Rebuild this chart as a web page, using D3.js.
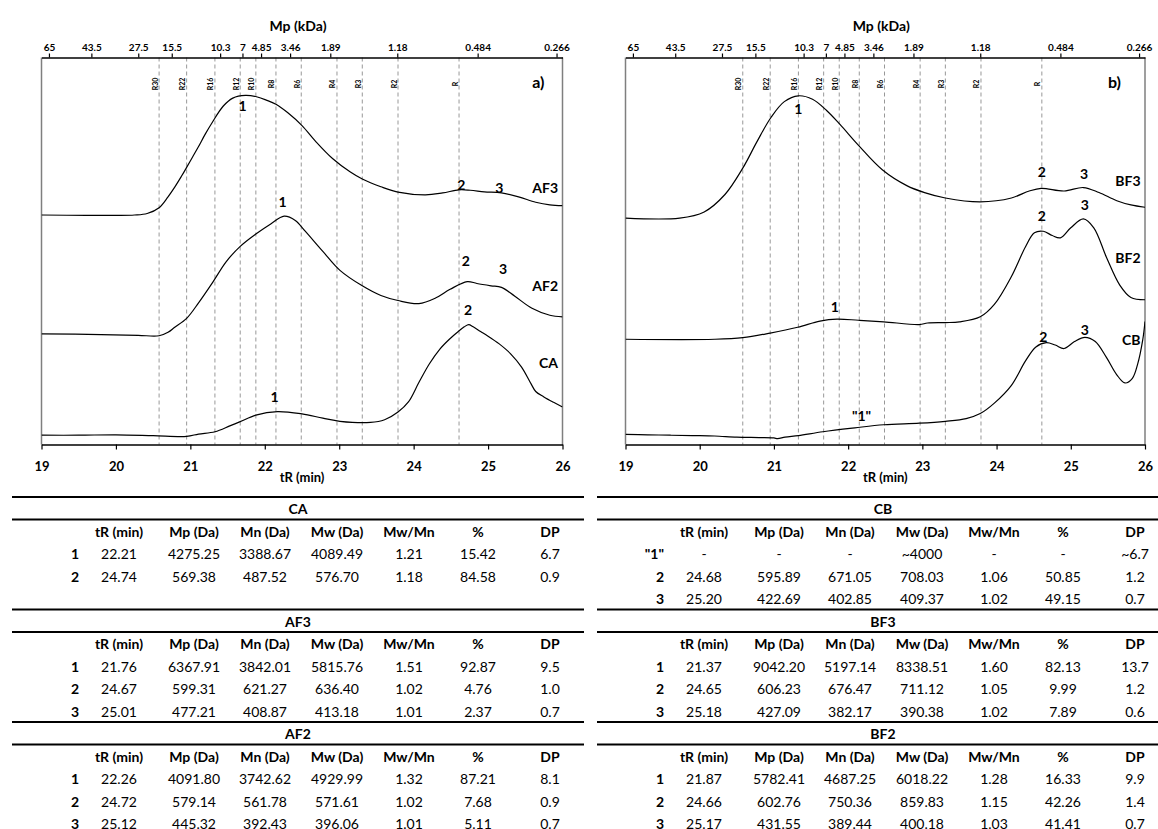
<!DOCTYPE html>
<html>
<head>
<meta charset="utf-8">
<script src="https://cdn.jsdelivr.net/npm/d3@7"></script>
<style>
  body { margin: 0; background: #fff; }
  svg { display: block; font-family: Lato, "Open Sans", "Liberation Sans", sans-serif; }
</style>
</head>
<body>
<svg id="chart" width="1158" height="829"></svg>
<script>
// ---------------- DATA ----------------
const tRTicks = [19, 20, 21, 22, 23, 24, 25, 26];
const mpTickLabels = ["65", "43.5", "27.5", "15.5", "10.3", "7", "4.85", "3.46", "1.89", "1.18", "0.484", "0.266"];
const mpTickTimes  = [19.10, 19.67, 20.30, 20.75, 21.40, 21.70, 21.95, 22.34, 22.88, 23.78, 24.86, 25.92];
const standardNames = ["R30", "R22", "R16", "R12", "R10", "R8", "R6", "R4", "R3", "R2", "R"];
const standardTimes = [20.58, 20.95, 21.33, 21.67, 21.88, 22.15, 22.49, 22.97, 23.31, 23.79, 24.61];

// chromatograms: [tR (min), signal (arb. units)]
const AF3 = [[19.0,59.3],[19.6,59.2],[20.0,59.2],[20.25,59.3],[20.42,59.7],[20.58,61.2],[20.70,64.0],[20.79,66.5],[20.88,69.3],[20.95,71.6],[21.03,74.3],[21.11,77.0],[21.20,80.2],[21.30,83.4],[21.44,87.4],[21.57,89.5],[21.74,90.2],[21.90,89.8],[22.02,89.0],[22.15,87.9],[22.31,85.7],[22.50,82.4],[22.68,78.4],[22.91,73.9],[23.15,70.4],[23.31,68.6],[23.56,66.6],[23.79,65.2],[24.16,64.5],[24.39,65.0],[24.61,65.8],[24.76,65.7],[24.95,65.3],[25.18,65.0],[25.41,64.0],[25.64,62.6],[25.83,61.9],[26.0,61.7]];
const AF2 = [[19.0,28.6],[19.8,28.4],[20.3,28.2],[20.58,28.1],[20.70,29.0],[20.79,30.3],[20.95,32.6],[21.11,36.6],[21.30,41.9],[21.48,47.2],[21.67,51.2],[21.88,54.4],[22.08,57.0],[22.26,59.0],[22.41,57.9],[22.54,55.2],[22.78,49.9],[23.01,45.0],[23.31,41.0],[23.56,38.5],[23.79,37.2],[24.07,36.4],[24.30,37.9],[24.49,40.1],[24.72,42.1],[24.85,41.6],[25.04,41.0],[25.18,40.6],[25.36,38.3],[25.59,35.2],[25.83,33.4],[26.0,33.0]];
const CA  = [[19.0,2.4],[19.5,2.4],[20.0,2.5],[20.5,2.3],[20.95,2.1],[21.11,2.7],[21.33,3.3],[21.53,4.8],[21.67,5.9],[21.88,7.6],[22.17,8.5],[22.50,7.9],[22.78,6.8],[23.01,6.0],[23.42,5.7],[23.61,6.4],[23.79,8.4],[23.93,11.0],[24.07,16.0],[24.21,20.8],[24.35,24.6],[24.48,27.2],[24.60,29.2],[24.68,30.4],[24.74,31.0],[24.80,30.4],[24.90,29.2],[25.00,28.0],[25.15,26.0],[25.30,23.5],[25.45,20.0],[25.58,15.6],[25.64,13.7],[25.75,12.3],[25.88,10.9],[26.0,9.7]];
const BF3 = [[19.0,58.5],[19.73,58.5],[20.06,60.1],[20.34,64.6],[20.58,71.4],[20.77,78.2],[20.96,84.5],[21.14,88.6],[21.33,90.1],[21.52,89.2],[21.71,86.3],[21.89,82.7],[22.14,77.3],[22.46,71.0],[22.79,66.9],[23.03,65.1],[23.31,63.7],[23.78,62.7],[24.20,63.7],[24.44,65.5],[24.60,66.2],[24.91,65.5],[25.17,66.4],[25.38,65.1],[25.62,63.0],[25.81,61.9],[26.0,61.3]];
const BF2 = [[19.0,27.2],[20.20,27.2],[20.58,27.6],[20.95,28.8],[21.32,30.3],[21.62,31.9],[21.85,32.4],[22.14,32.1],[22.48,31.7],[22.96,31.0],[23.07,31.4],[23.31,31.5],[23.50,31.7],[23.78,33.0],[23.97,36.2],[24.20,43.4],[24.39,51.1],[24.51,54.7],[24.63,55.1],[24.75,54.0],[24.86,53.4],[25.00,56.0],[25.17,58.3],[25.31,56.0],[25.48,48.4],[25.66,41.2],[25.81,38.0],[26.0,37.4]];
const CB  = [[19.0,2.6],[19.3,2.5],[19.6,2.4],[19.9,2.3],[20.2,2.2],[20.5,1.9],[20.8,1.8],[21.0,1.7],[21.05,1.5],[21.15,1.9],[21.33,2.3],[21.66,3.3],[22.09,4.3],[22.48,5.1],[22.96,5.5],[23.31,6.0],[23.59,6.7],[23.78,8.0],[23.97,10.7],[24.20,15.3],[24.39,21.6],[24.53,25.2],[24.67,26.3],[24.79,25.7],[24.91,24.8],[25.05,26.6],[25.19,27.7],[25.33,26.6],[25.48,22.5],[25.62,18.0],[25.73,15.9],[25.83,17.1],[25.90,20.7],[25.97,27.1],[26.0,31.8]];

// peak annotations: [text, tR, signal]
const AF3_peaks = [["1",21.70,87.7],["2",24.64,67.3],["3",25.15,66.5]];
const AF2_peaks = [["1",22.24,62.7],["2",24.70,47.5],["3",25.20,45.5]];
const CA_peaks  = [["1",22.13,12.3],["2",24.73,34.9]];
const BF3_peaks = [["1",21.33,86.8],["2",24.61,70.5],["3",25.18,70.1]];
const BF2_peaks = [["1",21.82,35.7],["2",24.61,59.2],["3",25.19,61.9]];
const CB_peaks  = [["\"1\"",22.18,7.5],["2",24.63,27.8],["3",25.19,29.6]];
// series name labels: [text, signal level]
const leftNames  = [["AF3",66.5],["AF2",41.1],["CA",21.3]];
const rightNames = [["BF3",68.1],["BF2",48.2],["CB",27.1]];

// tables
const tableHeader = ["", "tR (min)", "Mp (Da)", "Mn (Da)", "Mw (Da)", "Mw/Mn", "%", "DP"];
const CA_rows  = [["1","22.21","4275.25","3388.67","4089.49","1.21","15.42","6.7"],
                  ["2","24.74","569.38","487.52","576.70","1.18","84.58","0.9"]];
const AF3_rows = [["1","21.76","6367.91","3842.01","5815.76","1.51","92.87","9.5"],
                  ["2","24.67","599.31","621.27","636.40","1.02","4.76","1.0"],
                  ["3","25.01","477.21","408.87","413.18","1.01","2.37","0.7"]];
const AF2_rows = [["1","22.26","4091.80","3742.62","4929.99","1.32","87.21","8.1"],
                  ["2","24.72","579.14","561.78","571.61","1.02","7.68","0.9"],
                  ["3","25.12","445.32","392.43","396.06","1.01","5.11","0.7"]];
const CB_rows  = [["\"1\"","-","-","-","~4000","-","-","~6.7"],
                  ["2","24.68","595.89","671.05","708.03","1.06","50.85","1.2"],
                  ["3","25.20","422.69","402.85","409.37","1.02","49.15","0.7"]];
const BF3_rows = [["1","21.37","9042.20","5197.14","8338.51","1.60","82.13","13.7"],
                  ["2","24.65","606.23","676.47","711.12","1.05","9.99","1.2"],
                  ["3","25.18","427.09","382.17","390.38","1.02","7.89","0.6"]];
const BF2_rows = [["1","21.87","5782.41","4687.25","6018.22","1.28","16.33","9.9"],
                  ["2","24.66","602.76","750.36","859.83","1.15","42.26","1.4"],
                  ["3","25.17","431.55","389.44","400.18","1.03","41.41","0.7"]];

// ---------------- LAYOUT ----------------
const svg = d3.select("#chart");
const plotTop = 57.5, plotBottom = 444.5;
const panels = [
  { left: 41.5, right: 562.5, letter: "a)", letterDx: -18, series: [AF3, AF2, CA], peaks: [AF3_peaks, AF2_peaks, CA_peaks], names: leftNames },
  { left: 625.5, right: 1145, letter: "b)", letterDx: -24, series: [BF3, BF2, CB], peaks: [BF3_peaks, BF2_peaks, CB_peaks], names: rightNames }
];
const y = d3.scaleLinear().domain([0, 100]).range([plotBottom, plotTop]);

panels.forEach((p, i) => {
  const x = d3.scaleLinear().domain([19, 26]).range([p.left, p.right]);
  const g = svg.append("g");
  const clipId = "clip" + i;
  svg.append("clipPath").attr("id", clipId).append("rect")
    .attr("x", p.left).attr("y", plotTop).attr("width", p.right - p.left).attr("height", plotBottom - plotTop);

  // standards (dashed)
  g.selectAll("line.std").data(standardTimes).join("line")
    .attr("x1", d => x(d)).attr("x2", d => x(d))
    .attr("y1", plotTop).attr("y2", plotBottom)
    .attr("stroke", "#8c8c8c").attr("stroke-width", 0.9).attr("stroke-dasharray", "4,3");
  g.selectAll("text.std").data(standardNames).join("text")
    .attr("transform", (d, k) => `translate(${x(standardTimes[k]) - 1.5},84) rotate(-90)`)
    .attr("text-anchor", "middle").attr("font-size", 7).attr("font-weight", "bold")
    .text(d => d);

  // box sides
  g.append("line").attr("x1", p.left).attr("x2", p.left).attr("y1", plotTop).attr("y2", plotBottom)
    .attr("stroke", "#7f7f7f").attr("stroke-width", 1.5);
  g.append("line").attr("x1", p.right).attr("x2", p.right).attr("y1", plotTop).attr("y2", plotBottom)
    .attr("stroke", "#7f7f7f").attr("stroke-width", 1.5);

  // curves
  const line = d3.line().x(d => x(d[0])).y(d => y(d[1])).curve(d3.curveCatmullRom.alpha(0.5));
  g.append("g").attr("clip-path", `url(#${clipId})`)
    .selectAll("path").data(p.series).join("path")
    .attr("d", line).attr("fill", "none").attr("stroke", "#000").attr("stroke-width", 1.2);

  // peak labels
  p.peaks.forEach(list => {
    g.selectAll(null).data(list).join("text")
      .attr("x", d => x(d[1])).attr("y", d => y(d[2]))
      .attr("text-anchor", "middle").attr("dominant-baseline", "central")
      .attr("font-size", 14).attr("font-weight", "bold").text(d => d[0]);
  });
  g.selectAll(null).data(p.names).join("text")
    .attr("x", x(25.94)).attr("y", d => y(d[1]))
    .attr("text-anchor", "end").attr("dominant-baseline", "central")
    .attr("font-size", 14).attr("font-weight", "bold").text(d => d[0]);

  // panel letter
  g.append("text").attr("x", p.right + p.letterDx).attr("y", 81).attr("text-anchor", "end")
    .attr("dominant-baseline", "central").attr("font-size", 16).attr("font-weight", "bold").text(p.letter);

  // bottom axis
  const axB = g.append("g").attr("transform", `translate(0,${plotBottom})`)
    .call(d3.axisBottom(x).tickValues(tRTicks).tickFormat(d3.format("d")).tickSize(5).tickSizeOuter(0).tickPadding(12));
  axB.select(".domain").attr("stroke", "#000").attr("stroke-width", 1.5);
  axB.selectAll(".tick line").attr("stroke", "#000").attr("stroke-width", 1.2);
  axB.selectAll("text").attr("font-size", 13).attr("font-weight", "bold").attr("font-family", "Lato, sans-serif").attr("fill", "#000");
  g.append("text").attr("x", (p.left + p.right) / 2).attr("y", 477).attr("text-anchor", "middle")
    .attr("dominant-baseline", "central").attr("font-size", 13).attr("font-weight", "bold").text("tR (min)");

  // top axis (Mp)
  const axT = g.append("g").attr("transform", `translate(0,${plotTop})`)
    .call(d3.axisTop(x).tickValues(mpTickTimes).tickFormat((d, k) => mpTickLabels[k]).tickSize(4).tickSizeOuter(0).tickPadding(3));
  axT.select(".domain").attr("stroke", "#000").attr("stroke-width", 1.5);
  axT.selectAll(".tick line").attr("stroke", "#000").attr("stroke-width", 1.2);
  axT.selectAll("text").attr("font-size", 10).attr("font-weight", "bold").attr("font-family", "Lato, sans-serif").attr("fill", "#000");
  g.append("text").attr("x", (p.left + p.right) / 2 - 4).attr("y", 25).attr("text-anchor", "middle")
    .attr("dominant-baseline", "central").attr("font-size", 14).attr("font-weight", "bold").text("Mp (kDa)");
});

// ---------------- TABLES ----------------
const tables = [
  { left: 12, width: 572, blocks: [["CA", CA_rows], ["AF3", AF3_rows], ["AF2", AF2_rows]] },
  { left: 597, width: 572, blocks: [["CB", CB_rows], ["BF3", BF3_rows], ["BF2", BF2_rows]] }
];
const colOffsets = [67, 107, 182, 253, 325, 397, 466, 538];
const tableTop = 497, rowH = 22.5, blockRows = 5;

tables.forEach(t => {
  const g = svg.append("g");
  t.blocks.forEach((b, bi) => {
    const top = tableTop + bi * blockRows * rowH;
    [top, top + rowH].forEach(ly => {
      g.append("line").attr("x1", t.left).attr("x2", t.left + t.width).attr("y1", ly).attr("y2", ly)
        .attr("stroke", "#000").attr("stroke-width", 1.8);
    });
    g.append("text").attr("x", t.left + 286).attr("y", top + rowH / 2 + 0.5)
      .attr("text-anchor", "middle").attr("dominant-baseline", "central")
      .attr("font-size", 14).attr("font-weight", "bold").text(b[0]);
    const rows = [tableHeader].concat(b[1]);
    rows.forEach((r, ri) => {
      const cy = top + rowH * (ri + 1) + rowH / 2 + 0.5;
      r.forEach((cell, ci) => {
        g.append("text")
          .attr("x", t.left + colOffsets[ci]).attr("y", cy)
          .attr("text-anchor", ci === 0 ? "end" : "middle").attr("dominant-baseline", "central")
          .attr("font-size", 14)
          .attr("font-weight", (ri === 0 || ci === 0) ? "bold" : "normal")
          .attr("fill", "#000")
          .text(cell);
      });
    });
  });
});
</script>
</body>
</html>
